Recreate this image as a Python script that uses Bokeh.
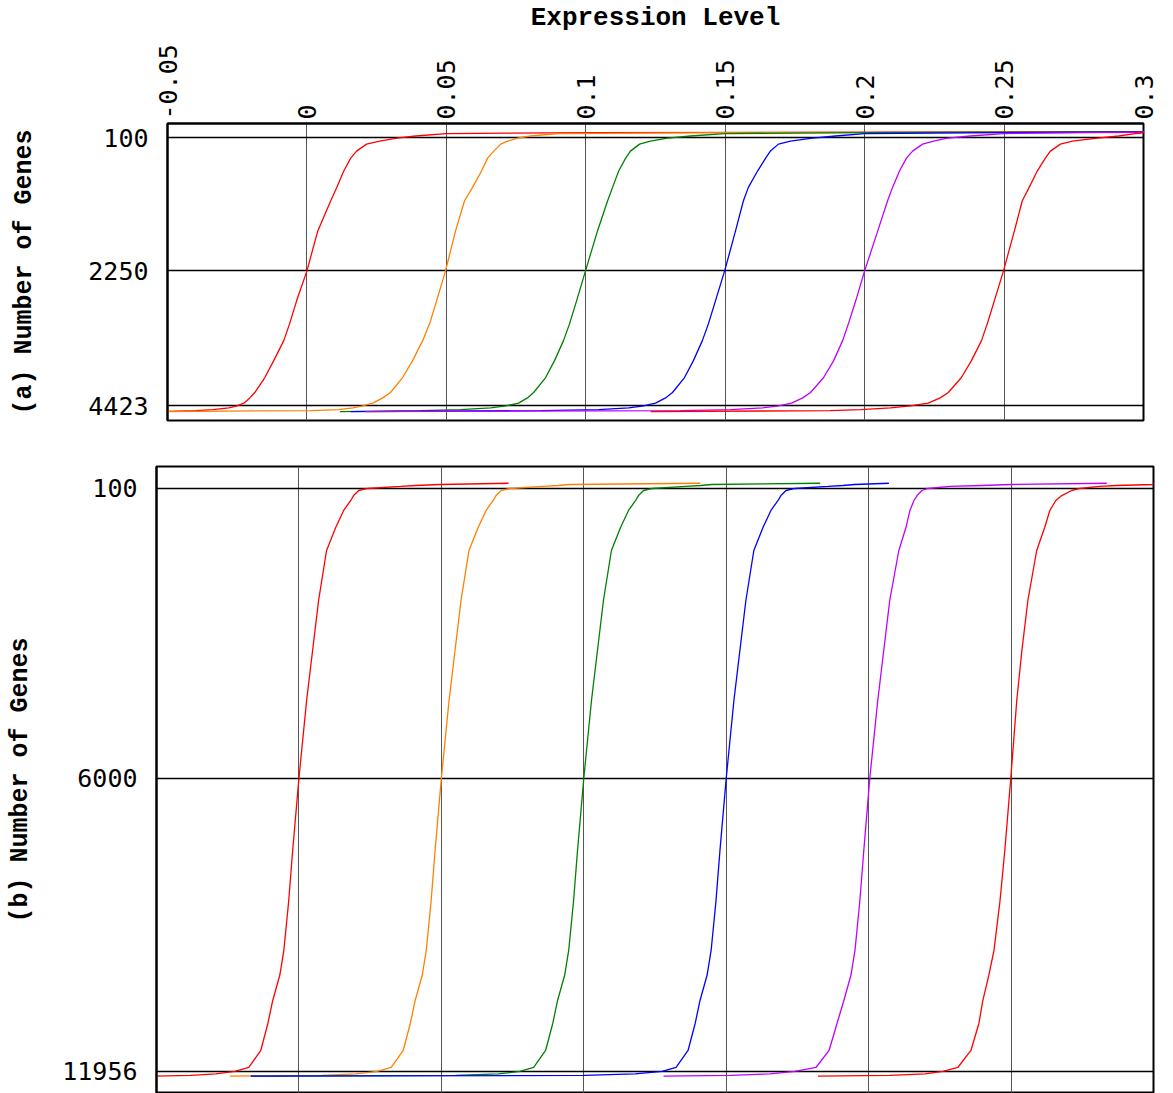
from bokeh.plotting import figure
from bokeh.models import Range1d, FixedTicker, CustomJSTickFormatter
from bokeh.embed import file_html
from bokeh.resources import INLINE

# ---------------- data ----------------
x_ticks = [-0.05, 0.0, 0.05, 0.1, 0.15, 0.2, 0.25, 0.3]
x_tick_labels = ["-0.05", "0", "0.05", "0.1", "0.15", "0.2", "0.25", "0.3"]

a_y_ticks = [100, 2250, 4423]
a_y_tick_labels = ["100", "2250", "4423"]
b_y_ticks = [100, 6000, 11956]
b_y_tick_labels = ["100", "6000", "11956"]

series_colors = ["#ff0000", "#ff8000", "#008000", "#0000ff", "#bf00ff", "#ff0000"]

# panel (a): gene rank (y) vs expression level (x)
ranks_a = [0, 15, 30, 70, 105, 153, 201, 314, 427, 636, 900, 1120, 1603, 2248,
           2732, 3100, 3375, 3698, 3971, 4213, 4300, 4385, 4430, 4460, 4490, 4505, 4523]
a_red1 = [0.32, 0.105, 0.05, 0.039, 0.0322, 0.0261, 0.0214, 0.0178, 0.0157, 0.0132,
          0.0107, 0.0085, 0.0039, 0.0, -0.0037, -0.0062, -0.0083, -0.0119, -0.0151,
          -0.0187, -0.0205, -0.0226, -0.0251, -0.028, -0.0337, -0.0398, -0.056]
a_orange = [0.32, 0.15, 0.09, 0.0802, 0.0755, 0.072, 0.0695, 0.067, 0.0648, 0.0626,
            0.0594, 0.0565, 0.0533, 0.0497, 0.0465, 0.044, 0.0415, 0.0379, 0.0343,
            0.03, 0.0272, 0.0236, 0.02, 0.0165, 0.0114, 0.0014, -0.06]
a_green = [0.32, 0.2, 0.1498, 0.1376, 0.1293, 0.1232, 0.1193, 0.116, 0.1143, 0.1118,
           0.1096, 0.1078, 0.1042, 0.0999, 0.0967, 0.0942, 0.092, 0.0888, 0.0856,
           0.0813, 0.0791, 0.0759, 0.0713, 0.0659, 0.0551, 0.0408, 0.0118]
a_blue = [0.33, 0.25, 0.2, 0.1896, 0.1813, 0.1734, 0.1691, 0.1662, 0.1645, 0.1616,
          0.1583, 0.1565, 0.1537, 0.1498, 0.1465, 0.144, 0.1418, 0.1386, 0.1354,
          0.1311, 0.1286, 0.125, 0.1207, 0.1154, 0.1046, 0.0838, 0.0157]
a_purple = [0.33, 0.28, 0.2498, 0.2379, 0.2297, 0.2247, 0.2208, 0.2172, 0.215, 0.2125,
            0.21, 0.2082, 0.2047, 0.2, 0.1968, 0.1942, 0.1921, 0.1889, 0.1853,
            0.1806, 0.1778, 0.1738, 0.1691, 0.1634, 0.1519, 0.134, 0.0211]
a_red2 = [0.31, 0.302, 0.297, 0.2911, 0.2835, 0.2745, 0.2702, 0.2666, 0.2648, 0.2619,
          0.259, 0.2565, 0.2537, 0.2498, 0.2465, 0.244, 0.2419, 0.2383, 0.2347,
          0.23, 0.2271, 0.2228, 0.2164, 0.2093, 0.1985, 0.1877, 0.1233]

# panel (b)
ranks_b = [0, 25, 45, 65, 106, 147, 250, 350, 553, 900, 1367, 2384, 3400, 4417,
           6000, 7467, 8500, 9500, 10000, 10517, 10985, 11534, 11880, 11961, 12010,
           12040, 12056]
b_red1 = [0.0736, 0.0497, 0.041, 0.0357, 0.0241, 0.021, 0.0192, 0.0182, 0.0157,
          0.0129, 0.0097, 0.0069, 0.0048, 0.0027, 0.0, -0.0022, -0.0036, -0.0053,
          -0.0067, -0.0092, -0.0109, -0.0134, -0.0176, -0.0225, -0.0292, -0.038,
          -0.052]
b_orange = [0.1409, 0.095, 0.091, 0.0857, 0.0741, 0.071, 0.0692, 0.0682, 0.0657,
            0.0629, 0.0597, 0.0569, 0.0548, 0.0527, 0.05, 0.0478, 0.0464, 0.0447,
            0.0433, 0.0408, 0.0391, 0.0366, 0.0324, 0.0275, 0.02, 0.008, -0.0243]
b_green = [0.183, 0.145, 0.141, 0.1357, 0.1241, 0.121, 0.1192, 0.1182, 0.1157,
           0.1129, 0.1097, 0.1069, 0.1048, 0.1027, 0.1, 0.0978, 0.0964, 0.0947,
           0.0933, 0.0908, 0.0891, 0.0866, 0.0824, 0.0775, 0.07, 0.055, -0.0169]
b_blue = [0.2071, 0.195, 0.191, 0.1857, 0.1741, 0.171, 0.1692, 0.1682, 0.1657,
          0.1629, 0.1597, 0.1569, 0.1548, 0.1527, 0.15, 0.1478, 0.1464, 0.1447,
          0.1433, 0.1408, 0.1391, 0.1366, 0.1324, 0.1275, 0.118, 0.1, -0.0169]
b_purple = [0.2836, 0.25, 0.2398, 0.2286, 0.2208, 0.2187, 0.217, 0.2159, 0.2145,
            0.2131, 0.2106, 0.2074, 0.2053, 0.2032, 0.2004, 0.1983, 0.1969, 0.1952,
            0.1938, 0.1913, 0.1889, 0.1861, 0.1815, 0.1741, 0.1654, 0.1514, 0.128]
b_red2 = [0.31, 0.2997, 0.287, 0.2811, 0.2741, 0.2713, 0.2678, 0.2657, 0.2636,
          0.2618, 0.259, 0.2559, 0.2538, 0.252, 0.2499, 0.2478, 0.2461, 0.244,
          0.2422, 0.2401, 0.2387, 0.2359, 0.2313, 0.2261, 0.2198, 0.2075, 0.1822]

a_series = [a_red1, a_orange, a_green, a_blue, a_purple, a_red2]
b_series = [b_red1, b_orange, b_green, b_blue, b_purple, b_red2]

TICK_FONT = "DejaVu Sans Mono"
LABEL_FONT = "Liberation Mono"

LOOKUP = """
let best = 0;
for (let i = 0; i < tvals.length; i++) {
  if (Math.abs(tvals[i] - tick) < Math.abs(tvals[best] - tick)) best = i;
}
return tlabels[best];
"""


def fmt(tv, tl):
    return CustomJSTickFormatter(args=dict(tvals=tv, tlabels=tl), code=LOOKUP)


def style_common(p, y_ticks, y_labels, ylabel, ylabel_standoff):
    p.outline_line_color = "black"
    p.outline_line_width = 2
    p.background_fill_color = "white"
    p.border_fill_color = "white"

    p.xgrid.ticker = FixedTicker(ticks=x_ticks)
    p.xgrid.grid_line_color = "#555555"
    p.xgrid.grid_line_width = 1
    p.ygrid.ticker = FixedTicker(ticks=y_ticks)
    p.ygrid.grid_line_color = "black"
    p.ygrid.grid_line_width = 1.4

    ya = p.yaxis[0]
    ya.ticker = FixedTicker(ticks=y_ticks)
    ya.formatter = fmt(y_ticks, y_labels)
    ya.major_tick_line_color = None
    ya.minor_tick_line_color = None
    ya.major_tick_out = 0
    ya.major_tick_in = 0
    ya.axis_line_color = "black"
    ya.axis_line_width = 2
    ya.major_label_text_font = TICK_FONT
    ya.major_label_text_font_size = "25px"
    ya.major_label_text_color = "black"
    ya.major_label_standoff = 19
    ya.axis_label = ylabel
    ya.axis_label_text_font = LABEL_FONT
    ya.axis_label_text_font_size = "25px"
    ya.axis_label_text_font_style = "bold"
    ya.axis_label_text_color = "black"
    ya.axis_label_standoff = ylabel_standoff


# ---------------- panel (a) ----------------
pa = figure(width=1173, height=440, output_backend="svg", toolbar_location=None,
            x_range=Range1d(-0.05, 0.3), y_range=Range1d(4665, -132),
            x_axis_location="above",
            min_border_left=167, min_border_right=30, min_border_top=122,
            min_border_bottom=20)
style_common(pa, a_y_ticks, a_y_tick_labels, "(a) Number of Genes", 46)

xa = pa.xaxis[0]
xa.ticker = FixedTicker(ticks=x_ticks)
xa.formatter = fmt(x_ticks, x_tick_labels)
xa.major_tick_line_color = None
xa.minor_tick_line_color = None
xa.major_tick_out = 0
xa.major_tick_in = 0
xa.axis_line_color = "black"
xa.axis_line_width = 2
xa.major_label_orientation = "vertical"
xa.major_label_text_font = TICK_FONT
xa.major_label_text_font_size = "25px"
xa.major_label_text_color = "black"
xa.major_label_standoff = 4
xa.axis_label = "Expression Level"
xa.axis_label_text_font = LABEL_FONT
xa.axis_label_text_font_size = "26px"
xa.axis_label_text_font_style = "bold"
xa.axis_label_text_color = "black"
xa.axis_label_standoff = 8

for xs, c in zip(a_series, series_colors):
    pa.line(xs, ranks_a, line_color=c, line_width=1.3)

# ---------------- panel (b) ----------------
pb = figure(width=1173, height=653, output_backend="svg", toolbar_location=None,
            x_range=Range1d(-0.05, 0.3), y_range=Range1d(12409, -341),
            min_border_left=156, min_border_right=20, min_border_top=26,
            min_border_bottom=0)
pb.xaxis.visible = False
style_common(pb, b_y_ticks, b_y_tick_labels, "(b) Number of Genes", 24)

for xs, c in zip(b_series, series_colors):
    pb.line(xs, ranks_b, line_color=c, line_width=1.3)

open("out.html", "w").write(file_html([pa, pb], INLINE))
